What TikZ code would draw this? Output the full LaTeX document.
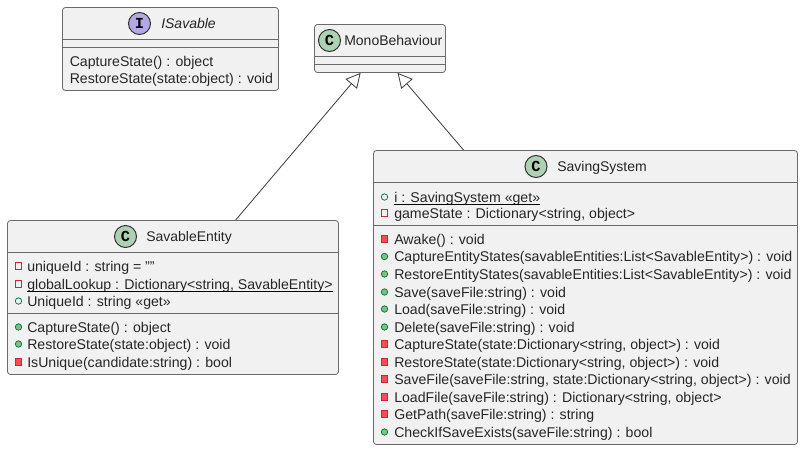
\documentclass[tikz,border=0pt]{standalone}
\usepackage{fontspec}
\setmainfont{Liberation Sans}
\newfontfamily\monob[]{Liberation Mono}
\usetikzlibrary{arrows.meta}
\definecolor{boxfill}{HTML}{F1F1F1}
\definecolor{ink}{HTML}{6A6A6A}
\definecolor{badgeink}{HTML}{333333}
\definecolor{linkink}{HTML}{3A3A3A}
\definecolor{cgreen}{HTML}{ADD1B2}
\definecolor{ipurple}{HTML}{B4A7E5}
\definecolor{privline}{HTML}{C82930}
\definecolor{privfill}{HTML}{F24D5C}
\definecolor{publine}{HTML}{038048}
\definecolor{pubfill}{HTML}{84BE84}
\tikzset{
  umlbox/.style={draw=ink,fill=boxfill,line width=.6pt,rounded corners=2.2pt,inner sep=0pt},
  sep/.style={draw=ink,line width=.6pt},
  txt/.style={anchor=base west,inner sep=0pt,font=\fontsize{10.6pt}{12pt}\selectfont,text=black!85},
  ttl/.style={txt,font=\fontsize{10.5pt}{12pt}\selectfont},
  badge/.style={circle,draw=badgeink,line width=.75pt,minimum size=16.5pt,inner sep=0pt,font=\monob\bfseries\fontsize{11.5pt}{12pt}\selectfont,text=black},
  privfield/.style={rectangle,draw=privline,line width=.6pt,minimum size=4.8pt,inner sep=0pt},
  privmeth/.style={rectangle,draw=privline,fill=privfill,line width=.6pt,minimum size=4.8pt,inner sep=0pt},
  pubfield/.style={circle,draw=publine,line width=.6pt,minimum size=4.8pt,inner sep=0pt},
  pubmeth/.style={circle,draw=publine,fill=pubfill,line width=.6pt,minimum size=4.8pt,inner sep=0pt},
  ext/.style={draw=linkink,line width=.6pt,-{Triangle[open,length=14.5pt*.75,width=15pt*.75,fill=white]}},
  underl/.style={draw=black,line width=.6pt}
}
% name, x0, y0, x1, y1
\newcommand{\umlboxdraw}[5]{%
  \node[umlbox,minimum width={(#4-#2)*.75pt},minimum height={(#5-#3)*.75pt}] (#1) at ({(#2+#4)/2},{(#3+#5)/2}) {};}
% name, icon style, icon x, text x, row centre y, text
\newcommand{\umlrow}[6]{%
  \node[#2] (#1i) at (#3,#5) {};
  \node[txt] (#1) at (#4,#5+5) {#6};}
\begin{document}
\begin{tikzpicture}[x=.75pt,y=-.75pt]
\useasboundingbox (0,0) rectangle (803,450);
\fill[white] (0,0) rectangle (803,450);

% ISavable
\umlboxdraw{isav}{62.5}{7.5}{278.5}{90.5}
\draw[sep] (62.5,39.5) -- (278.5,39.5) (62.5,47.5) -- (278.5,47.5);
\node[badge,fill=ipurple] (isavb) at (139.5,23.5) {I};
\node[ttl,font=\fontsize{10.5pt}{12pt}\selectfont\itshape] (isavt) at (161,28.5) {ISavable};
\node[txt] (isavm1) at (69.5,66.3) {CaptureState() : object};
\node[txt] (isavm2) at (69.5,83) {RestoreState(state:object) : void};

% MonoBehaviour
\umlboxdraw{mono}{314.5}{24.5}{445.5}{72.5}
\draw[sep] (314.5,56.5) -- (445.5,56.5) (314.5,64.5) -- (445.5,64.5);
\node[badge,fill=cgreen] (monob) at (329.5,40.5) {C};
\node[ttl] (monot) at (344,45.7) {MonoBehaviour};

% SavableEntity
\umlboxdraw{ent}{7.5}{220.5}{338.5}{374.5}
\draw[sep] (7.5,252.5) -- (338.5,252.5) (7.5,313.5) -- (338.5,313.5);
\node[badge,fill=cgreen] (entb) at (125.5,236.5) {C};
\node[ttl] (entt) at (146,241.7) {SavableEntity};
\umlrow{ef1}{privfield}{18.5}{27}{266}{uniqueId : string = ""}
\umlrow{ef2}{privfield}{18.5}{27}{284}{globalLookup : Dictionary<string, SavableEntity>}
\draw[underl] (ef2.base west)+(0,2) -- ([yshift=-1.5pt]ef2.base east);
\umlrow{ef3}{pubfield}{18.5}{27}{301}{UniqueId : string «get»}
\umlrow{em1}{pubmeth}{18.5}{27}{327}{CaptureState() : object}
\umlrow{em2}{pubmeth}{18.5}{27}{344}{RestoreState(state:object) : void}
\umlrow{em3}{privmeth}{18.5}{27}{362}{IsUnique(candidate:string) : bool}

% SavingSystem
\umlboxdraw{sys}{373.5}{150.5}{797.5}{444.5}
\draw[sep] (373.5,182.5) -- (797.5,182.5) (373.5,225.5) -- (797.5,225.5);
\node[badge,fill=cgreen] (sysb) at (536,166.5) {C};
\node[ttl] (syst) at (557,171.7) {SavingSystem};
\umlrow{sf1}{pubfield}{384.5}{394}{197}{i : SavingSystem «get»}
\draw[underl] (sf1.base west)+(0,2) -- ([yshift=-1.5pt]sf1.base east);
\umlrow{sf2}{privfield}{384.5}{394}{213}{gameState : Dictionary<string, object>}
\umlrow{sm1}{privmeth}{384.5}{394}{239}{Awake() : void}
\umlrow{sm2}{pubmeth}{384.5}{394}{256.5}{CaptureEntityStates(savableEntities:List<SavableEntity>) : void}
\umlrow{sm3}{pubmeth}{384.5}{394}{274}{RestoreEntityStates(savableEntities:List<SavableEntity>) : void}
\umlrow{sm4}{pubmeth}{384.5}{394}{292}{Save(saveFile:string) : void}
\umlrow{sm5}{pubmeth}{384.5}{394}{309}{Load(saveFile:string) : void}
\umlrow{sm6}{pubmeth}{384.5}{394}{327}{Delete(saveFile:string) : void}
\umlrow{sm7}{privmeth}{384.5}{394}{344}{CaptureState(state:Dictionary<string, object>) : void}
\umlrow{sm8}{privmeth}{384.5}{394}{362}{RestoreState(state:Dictionary<string, object>) : void}
\umlrow{sm9}{privmeth}{384.5}{394}{379}{SaveFile(saveFile:string, state:Dictionary<string, object>) : void}
\umlrow{sm10}{privmeth}{384.5}{394}{397}{LoadFile(saveFile:string) : Dictionary<string, object>}
\umlrow{sm11}{privmeth}{384.5}{394}{414}{GetPath(saveFile:string) : string}
\umlrow{sm12}{pubmeth}{384.5}{394}{432}{CheckIfSaveExists(saveFile:string) : bool}

% Generalisations
\draw[ext] ([xshift=228.5*.75pt]ent.north west) -- ([xshift=46.5*.75pt]mono.south west);
\draw[ext] ([xshift=90.5*.75pt]sys.north west) -- ([xshift=83.5*.75pt]mono.south west);
\end{tikzpicture}
\end{document}
